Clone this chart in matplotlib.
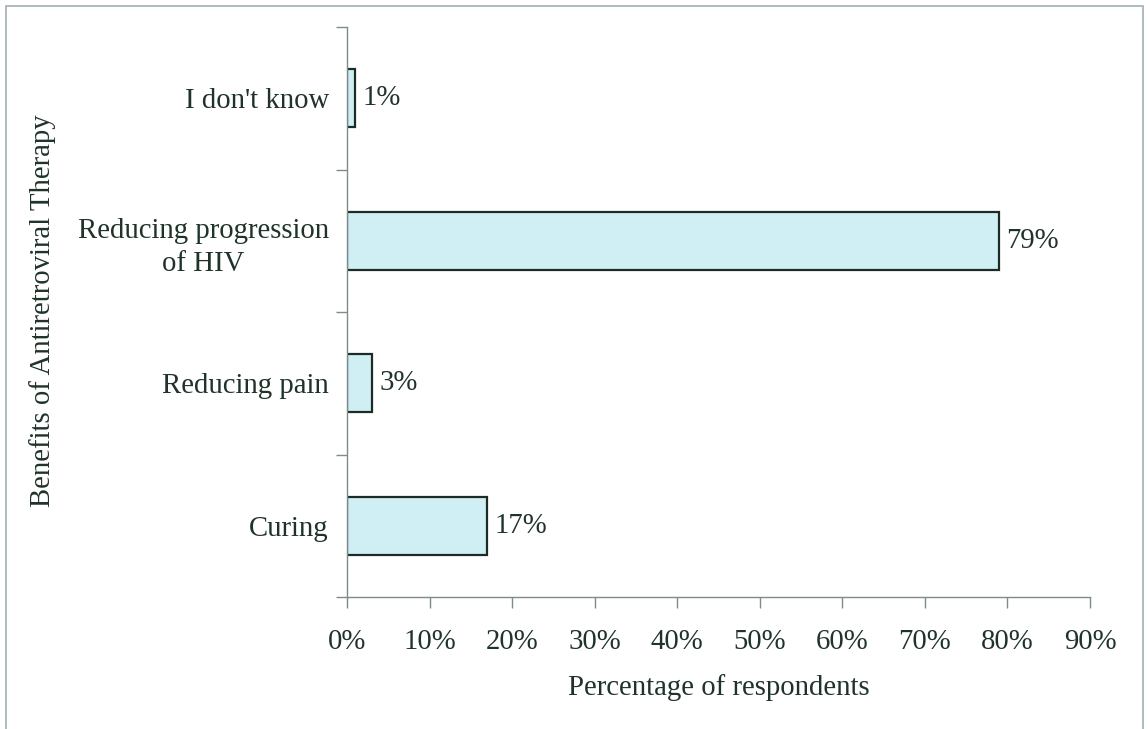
import matplotlib
matplotlib.use("Agg")
import matplotlib.pyplot as plt
from matplotlib.patches import Rectangle
from matplotlib.ticker import FixedLocator

categories = ["Curing", "Reducing pain", "Reducing progression\nof HIV", "I don't know"]
values = [17, 3, 79, 1]
xticks = [0, 10, 20, 30, 40, 50, 60, 70, 80, 90]
xticklabels = [f"{t}%" for t in xticks]

txt = "#1f3329"
plt.rcParams["font.family"] = ["Liberation Serif", "DejaVu Serif"]
plt.rcParams["font.size"] = 20.7

W, H = 1148, 729
fig = plt.figure(figsize=(W / 100, H / 100), dpi=100)
ax = fig.add_axes([347 / W, 1 - 597 / H, (1090 - 347) / W, (597 - 27) / H])

ypos = range(len(categories))
ax.barh(ypos, values, height=0.41, color="#d0eff4", edgecolor="#1c2b24", linewidth=1.6)

for y, v in zip(ypos, values):
    ax.text(v + 0.9, y, f"{v}%", va="center", ha="left", color=txt)

ax.set_xlim(0, 90)
ax.set_ylim(-0.5, len(categories) - 0.5)
ax.set_xticks(xticks)
ax.set_xticklabels(xticklabels, color=txt)
ax.set_yticks(list(ypos))
ax.set_yticklabels(categories, color=txt, ha="right", multialignment="center",
                   linespacing=1.35)
ax.yaxis.set_minor_locator(FixedLocator([i - 0.5 for i in range(len(categories) + 1)]))
ax.tick_params(axis="y", which="major", length=0, pad=13)
ax.tick_params(axis="y", which="minor", length=8, width=1, color="#7d8c8a", direction="out")
ax.tick_params(axis="x", length=8, width=1, color="#7d8c8a", direction="out", pad=15)

for s in ["top", "right"]:
    ax.spines[s].set_visible(False)
for s in ["left", "bottom"]:
    ax.spines[s].set_color("#7d8c8a")
    ax.spines[s].set_linewidth(1)

ax.set_xlabel("Percentage of respondents", color=txt, labelpad=14)
fig.text(43 / W, 1 - 311 / H, "Benefits of Antiretroviral Therapy", rotation=90,
         va="center", ha="center", color=txt)

# thin frame round the whole chart
fig.patches.append(Rectangle((6 / W, -0.05), (1143 - 6) / W, 1 - 6 / H + 0.05,
                             transform=fig.transFigure, fill=False,
                             edgecolor="#9fb0b4", linewidth=1.2))

fig.savefig("out.png", dpi=100)
